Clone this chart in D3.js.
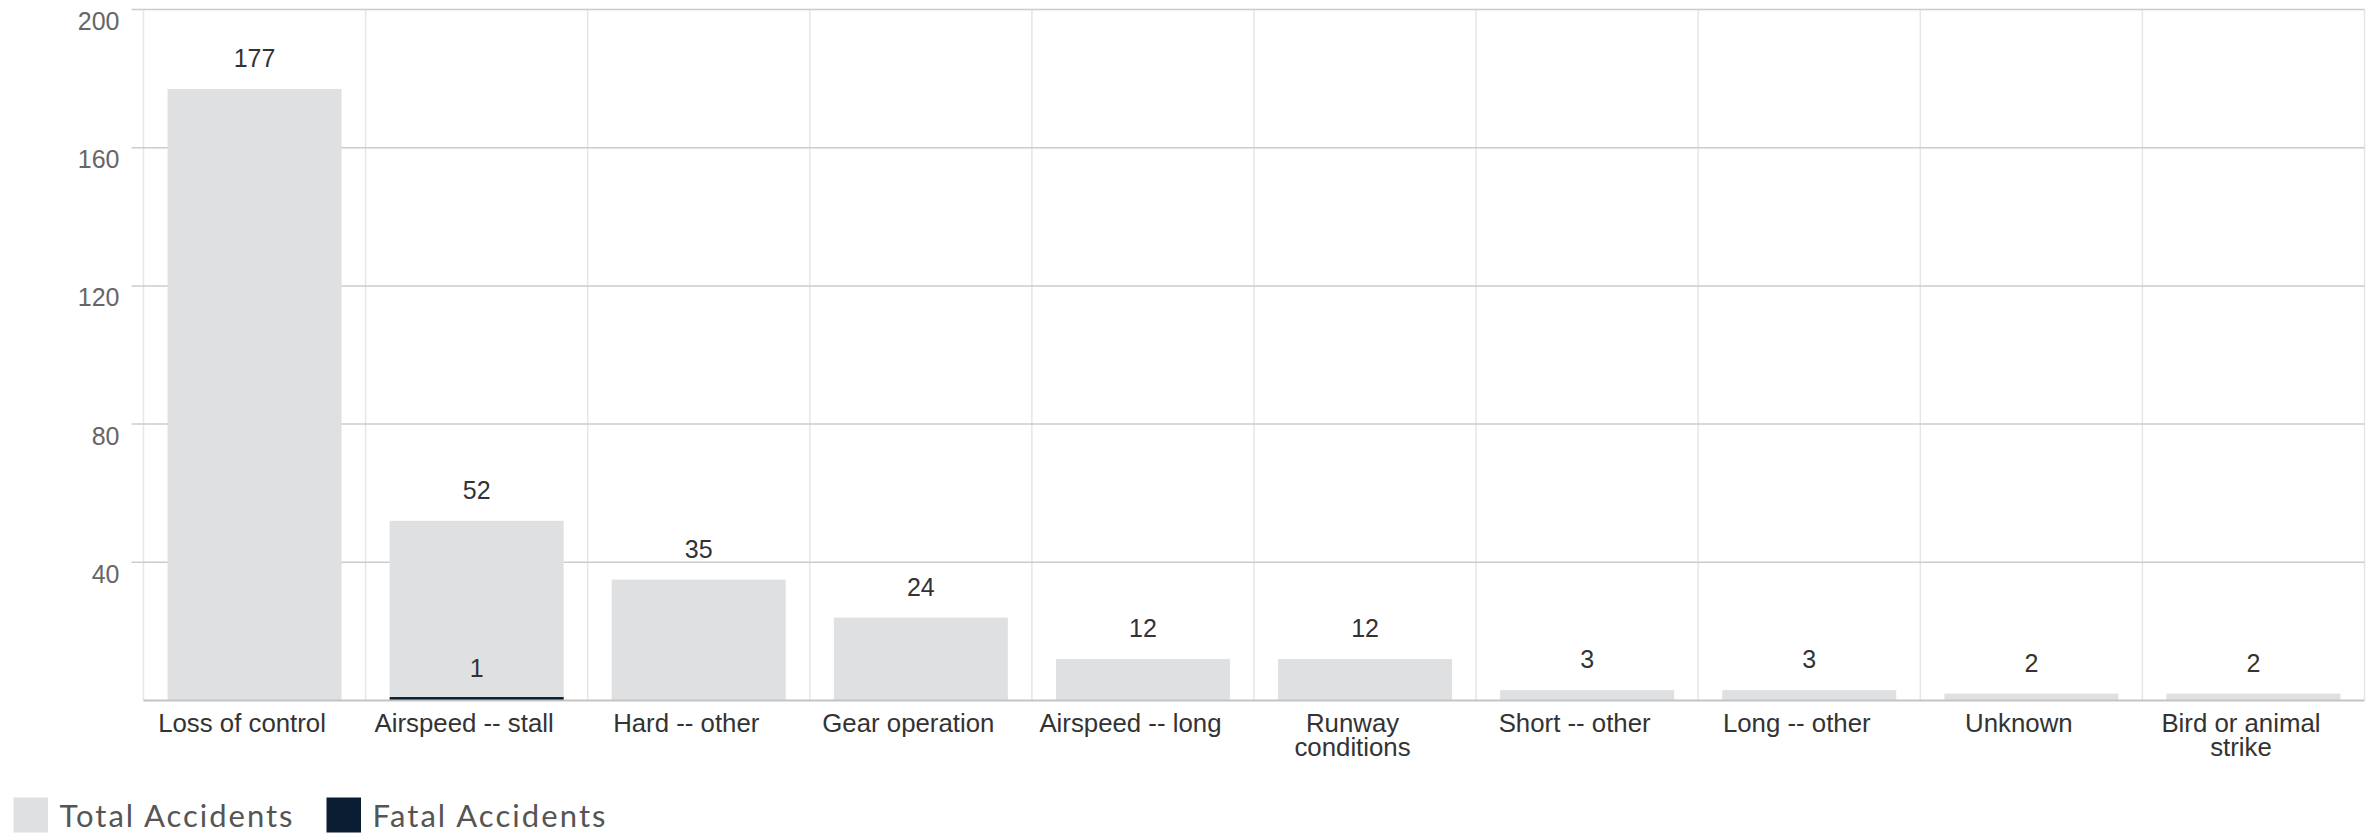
<!DOCTYPE html>
<html><head><meta charset="utf-8">
<script src="https://cdn.jsdelivr.net/npm/d3@7"></script>
<style>body{margin:0;background:#fff;} svg{display:block}</style>
</head><body><svg id="c" width="2374" height="835"></svg>
<script>
const categories = ["Loss of control","Airspeed -- stall","Hard -- other","Gear operation","Airspeed -- long","Runway conditions","Short -- other","Long -- other","Unknown","Bird or animal strike"];
const totalAccidents = [177,52,35,24,12,12,3,3,2,2];
const fatalAccidents = [0,1,0,0,0,0,0,0,0,0];
const yTicks = [40,80,120,160,200];
const seriesNames = ["Total Accidents","Fatal Accidents"];
const seriesColors = ["#dfe0e2","#0b1d33"];

const svg = d3.select("#c");
const L = 143.5, R = 2364.5, T = 9.5, B = 700.5;
const x = d3.scaleBand().domain(categories).range([L, R]).paddingInner(0.2166).paddingOuter(0.1083);
const y = d3.scaleLinear().domain([0, 200]).range([B, T]);
const font = "'Liberation Sans', Arial, sans-serif";

// vertical gridlines at category boundaries
const step = x.step();
svg.append("g").selectAll("line").data(d3.range(categories.length + 1)).join("line")
  .attr("x1", i => L + i * step).attr("x2", i => L + i * step)
  .attr("y1", T).attr("y2", B)
  .attr("stroke", "#e6e6e6").attr("stroke-width", 1.5);

// horizontal gridlines + ticks
const yAxis = svg.append("g");
yAxis.selectAll("line.g").data(yTicks).join("line").attr("class", "g")
  .attr("x1", L - 12).attr("x2", R)
  .attr("y1", d => y(d)).attr("y2", d => y(d))
  .attr("stroke", "#cccccc").attr("stroke-width", 1.5);
yAxis.selectAll("text").data(yTicks).join("text")
  .attr("x", 119.5).attr("y", d => y(d) + 20.5)
  .attr("text-anchor", "end").attr("font-family", font).attr("font-size", 25)
  .attr("fill", "#666").text(d => d);

// bars: total
svg.append("g").selectAll("rect").data(categories).join("rect")
  .attr("x", d => x(d)).attr("width", x.bandwidth())
  .attr("y", (d, i) => y(totalAccidents[i])).attr("height", (d, i) => B - y(totalAccidents[i]))
  .attr("fill", seriesColors[0]);
// bars: fatal (overlapping)
svg.append("g").selectAll("rect").data(categories).join("rect")
  .attr("x", d => x(d)).attr("width", x.bandwidth())
  .attr("y", (d, i) => y(fatalAccidents[i])).attr("height", (d, i) => B - y(fatalAccidents[i]))
  .attr("fill", seriesColors[1]);

// baseline
svg.append("line").attr("x1", L).attr("x2", R).attr("y1", B).attr("y2", B)
  .attr("stroke", "#c4c4c4").attr("stroke-width", 2);

// value labels
svg.append("g").selectAll("text").data(categories).join("text")
  .attr("x", d => x(d) + x.bandwidth() / 2).attr("y", (d, i) => y(totalAccidents[i]) - 22)
  .attr("text-anchor", "middle").attr("font-family", font).attr("font-size", 25)
  .attr("fill", "#333").text((d, i) => totalAccidents[i]);
svg.append("g").selectAll("text").data(categories.filter((d, i) => fatalAccidents[i] > 0)).join("text")
  .attr("x", d => x(d) + x.bandwidth() / 2).attr("y", d => y(fatalAccidents[categories.indexOf(d)]) - 20)
  .attr("text-anchor", "middle").attr("font-family", font).attr("font-size", 25)
  .attr("fill", "#333").text(d => fatalAccidents[categories.indexOf(d)]);

// category labels with wrapping
const catG = svg.append("g");
categories.forEach(c => {
  const cx = x(c) + x.bandwidth() / 2 - 12.5;
  const t = catG.append("text").attr("x", cx).attr("y", 731.5)
    .attr("text-anchor", "middle").attr("font-family", font).attr("font-size", 25.8).attr("fill", "#333");
  const words = c.split(" ");
  let line = [];
  let ts = t.append("tspan").attr("x", cx).attr("dy", 0);
  words.forEach(w => {
    line.push(w);
    ts.text(line.join(" "));
    if (ts.node().getComputedTextLength() > 200 && line.length > 1) {
      line.pop(); ts.text(line.join(" "));
      line = [w];
      ts = t.append("tspan").attr("x", cx).attr("dy", 24.5).text(w);
    }
  });
});

// legend
const lg = svg.append("g");
const legX = [13.5, 326.5];
seriesNames.forEach((n, i) => {
  lg.append("rect").attr("x", legX[i]).attr("y", 797.5).attr("width", 34.5).attr("height", 35).attr("fill", seriesColors[i]);
  lg.append("text").attr("x", legX[i] + 46).attr("y", 827).attr("font-family", "Lato, 'Open Sans', sans-serif")
    .attr("font-size", 31).attr("fill", "#555").attr("textLength", 233).attr("lengthAdjust", "spacing").text(n);
});
</script></body></html>
